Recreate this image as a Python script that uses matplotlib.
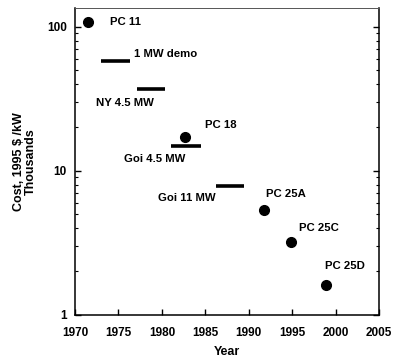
import matplotlib.pyplot as plt
from matplotlib.ticker import LogLocator, FixedLocator, NullFormatter

plt.rcParams['font.family'] = ['Liberation Sans', 'DejaVu Sans']
plt.rcParams['font.weight'] = 'bold'

# Demonstration plants shown as dots (year, cost in thousand 1995 $/kW)
dot_names = ["PC 11", "PC 18", "PC 25A", "PC 25C", "PC 25D"]
dot_years = [1971.5, 1982.7, 1991.8, 1994.9, 1998.9]
dot_costs = [107, 17.1, 5.3, 3.2, 1.6]

# Plants shown as bars spanning several years
bar_names = ["1 MW demo", "NY 4.5 MW", "Goi 4.5 MW", "Goi 11 MW"]
bar_start = [1973.0, 1977.1, 1981.1, 1986.2]
bar_end = [1976.3, 1980.4, 1984.5, 1989.4]
bar_costs = [58, 37, 14.8, 7.9]

# where the text labels sit
label_pos = {
    "PC 11": (1974.0, 108), "PC 18": (1985.0, 20.7), "PC 25A": (1992.0, 6.9),
    "PC 25C": (1995.8, 4.0), "PC 25D": (1998.8, 2.2),
    "1 MW demo": (1976.8, 64.8), "NY 4.5 MW": (1972.4, 29.5),
    "Goi 4.5 MW": (1975.6, 12.0), "Goi 11 MW": (1979.6, 6.5),
}

fig = plt.figure(figsize=(3.97, 3.59), dpi=100)
ax = fig.add_axes([0.189, 0.123, 0.766, 0.855])

ax.plot(dot_years, dot_costs, 'o', color='black', markersize=7, linestyle='none')
ax.hlines(bar_costs, bar_start, bar_end, color='black', linewidth=2.6)

for name in dot_names + bar_names:
    lx, ly = label_pos[name]
    ax.text(lx, ly, name, fontsize=8.2, fontweight='bold', va='center', ha='left')

ax.set_yscale('log')
ax.set_xlim(1970, 2005)
ax.set_ylim(1, 135)
ax.set_xticks(range(1970, 2006, 5))
ax.yaxis.set_major_locator(FixedLocator([1, 10, 100]))
ax.yaxis.set_minor_locator(LogLocator(base=10, subs=range(2, 10)))
ax.yaxis.set_minor_formatter(NullFormatter())
ax.set_yticklabels(["1", "10", "100"])

ax.tick_params(axis='both', which='both', direction='in', labelsize=8.5)
ax.tick_params(axis='y', which='both', right=True, left=True, pad=6)
ax.tick_params(axis='x', top=False, pad=8.5)
ax.tick_params(which='major', length=4, width=1)
ax.tick_params(which='minor', length=2, width=0.8)
for lbl in ax.get_xticklabels() + ax.get_yticklabels():
    lbl.set_fontweight('bold')

for s in ax.spines.values():
    s.set_linewidth(1.1)
ax.spines['top'].set_linewidth(0.7)
ax.spines['top'].set_color('#555555')

ax.set_xlabel("Year", fontsize=9, fontweight='bold', labelpad=5)
ax.set_ylabel("Cost, 1995 $ /kW\nThousands", fontsize=9, fontweight='bold',
              linespacing=1.0, labelpad=7)

fig.savefig("out.png", dpi=100)
